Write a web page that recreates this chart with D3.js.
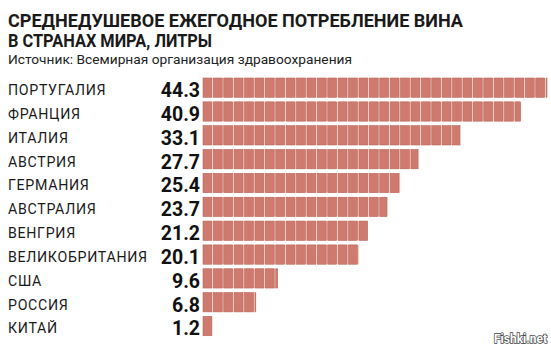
<!DOCTYPE html>
<html>
<head>
<meta charset="utf-8">
<script src="https://cdn.jsdelivr.net/npm/d3@7"></script>
<style>
  html, body { margin: 0; padding: 0; background: #fff; }
  svg { display: block; }
</style>
</head>
<body>
<script>
// Per-capita annual wine consumption, litres
const countries = ["ПОРТУГАЛИЯ", "ФРАНЦИЯ", "ИТАЛИЯ", "АВСТРИЯ", "ГЕРМАНИЯ", "АВСТРАЛИЯ",
  "ВЕНГРИЯ", "ВЕЛИКОБРИТАНИЯ", "США", "РОССИЯ", "КИТАЙ"];
const litres = [44.3, 40.9, 33.1, 27.7, 25.4, 23.7, 21.2, 20.1, 9.6, 6.8, 1.2];
const titleLines = ["СРЕДНЕДУШЕВОЕ ЕЖЕГОДНОЕ ПОТРЕБЛЕНИЕ ВИНА", "В СТРАНАХ МИРА, ЛИТРЫ"];
const sourceLine = "Источник: Всемирная организация здравоохранения";

const W = 551, H = 350;
const svg = d3.select("body").append("svg").attr("width", W).attr("height", H);

const font = "Roboto, 'DejaVu Sans', sans-serif";

// Title block
svg.append("text").attr("x", 8).attr("y", 26.5)
  .attr("font-family", font).attr("font-weight", 700).attr("font-size", 17.5)
  .attr("fill", "#1a1a1a").attr("textLength", 455).attr("lengthAdjust", "spacingAndGlyphs")
  .text(titleLines[0]);
svg.append("text").attr("x", 8).attr("y", 46.5)
  .attr("font-family", font).attr("font-weight", 700).attr("font-size", 17.5)
  .attr("fill", "#1a1a1a").attr("textLength", 204).attr("lengthAdjust", "spacingAndGlyphs")
  .text(titleLines[1]);
svg.append("text").attr("x", 8).attr("y", 64)
  .attr("font-family", font).attr("font-size", 13.5)
  .attr("fill", "#222").attr("textLength", 344).attr("lengthAdjust", "spacingAndGlyphs")
  .text(sourceLine);

// Scales
const x = d3.scaleLinear().domain([0, 44.3]).range([203, 547]);
const y = d3.scaleBand().domain(countries).range([78, 78 + 23.43 * countries.length])
  .paddingInner(0.19).paddingOuter(0);

const pitch = 10.4, gap = 1.6;

const rows = svg.selectAll("g.row").data(countries.map((c, i) => ({ c, v: litres[i] })))
  .join("g").attr("class", "row");

// Country names
rows.append("text")
  .attr("x", 8).attr("y", d => y(d.c) + 17)
  .attr("font-family", font).attr("font-size", 14.2).attr("letter-spacing", 0.7)
  .attr("fill", "#1a1a1a")
  .text(d => d.c);

// Values
rows.append("text")
  .attr("x", 200).attr("y", d => y(d.c) + 19)
  .attr("text-anchor", "end")
  .attr("font-family", font).attr("font-weight", 700).attr("font-size", 19.5)
  .attr("fill", "#111")
  .text(d => d.v.toFixed(1));

// Bars drawn as a row of bricks
rows.each(function(d) {
  const g = d3.select(this);
  const x0 = x(0), x1 = x(d.v), yy = y(d.c), h = y.bandwidth();
  const bricks = [];
  for (let s = x0; s < x1 - 0.5; s += pitch) {
    bricks.push({ s, w: Math.min(pitch - gap, x1 - s) });
  }
  g.append("rect").attr("x", x0).attr("y", yy).attr("width", Math.max(0, x1 - x0)).attr("height", h)
    .attr("fill", "#f6d4cc");
  g.selectAll("rect.brick").data(bricks).join("rect").attr("class", "brick")
    .attr("x", b => b.s).attr("y", yy).attr("width", b => b.w).attr("height", h)
    .attr("fill", "#cf7a6e").attr("stroke", "#b9695e").attr("stroke-width", 0.6);
});

// Watermark
svg.append("text").attr("x", 547).attr("y", 343).attr("text-anchor", "end")
  .attr("font-family", font).attr("font-weight", 700).attr("font-size", 12)
  .attr("fill", "#fff").attr("stroke", "#444").attr("stroke-width", 1.4)
  .attr("paint-order", "stroke")
  .text("Fishki.net");
</script>
</body>
</html>
